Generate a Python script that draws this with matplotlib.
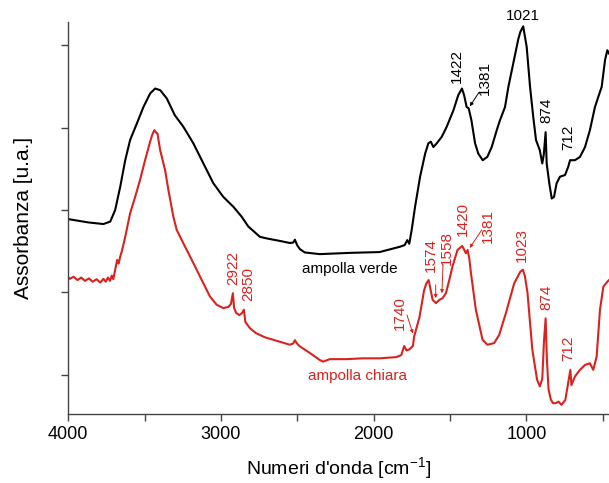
import matplotlib
matplotlib.use("Agg")
import matplotlib.pyplot as plt

plt.rcParams['font.family'] = ['Liberation Sans', 'DejaVu Sans']

# FTIR spectrum, "ampolla verde" (green ampoule)
verde_wn = [4000, 3870, 3770, 3725, 3693, 3660, 3627, 3595, 3551, 3508, 3464, 3431,
            3398, 3355, 3302, 3246, 3181, 3115, 3050, 2985, 2919, 2865, 2821, 2745,
            2699, 2614, 2549, 2527, 2516, 2500, 2483, 2451, 2353, 2157, 1961, 1827,
            1797, 1780, 1767, 1751, 1729, 1696, 1663, 1642, 1626, 1609, 1587, 1554,
            1522, 1478, 1446, 1422, 1408, 1391, 1378, 1360, 1336, 1315, 1286, 1256,
            1227, 1194, 1173, 1140, 1118, 1086, 1053, 1040, 1021, 998, 976, 955,
            937, 912, 896, 886, 874, 867, 850, 834, 819, 802, 780, 747, 726, 714,
            682, 649, 616, 584, 551, 529, 507, 485, 470, 459]
verde_abs = [0.578, 0.570, 0.566, 0.572, 0.600, 0.656, 0.721, 0.770, 0.810, 0.850, 0.883, 0.895,
             0.891, 0.871, 0.830, 0.802, 0.762, 0.713, 0.665, 0.632, 0.608, 0.584, 0.560, 0.535,
             0.531, 0.525, 0.520, 0.521, 0.528, 0.514, 0.505, 0.497, 0.493, 0.496, 0.498, 0.511,
             0.515, 0.527, 0.518, 0.552, 0.608, 0.681, 0.737, 0.762, 0.766, 0.753, 0.762, 0.778,
             0.802, 0.842, 0.879, 0.895, 0.879, 0.850, 0.847, 0.818, 0.762, 0.737, 0.721, 0.729,
             0.753, 0.794, 0.818, 0.850, 0.899, 0.956, 1.015, 1.032, 1.046, 0.996, 0.899, 0.826,
             0.770, 0.745, 0.713, 0.735, 0.789, 0.713, 0.665, 0.628, 0.632, 0.665, 0.681, 0.685, 0.705, 0.721,
             0.721, 0.729, 0.753, 0.794, 0.850, 0.875, 0.899, 0.964, 0.988, 0.980]

# FTIR spectrum, "ampolla chiara" (light ampoule)
chiara_wn = [4000, 3990, 3965, 3940, 3915, 3890, 3865, 3840, 3815, 3790, 3770, 3755,
             3740, 3727, 3715, 3705, 3693, 3680, 3670, 3660, 3649, 3627, 3595, 3562,
             3530, 3497, 3464, 3448, 3436, 3425, 3416, 3398, 3366, 3344, 3312, 3290,
             3246, 3202, 3159, 3115, 3072, 3028, 2985, 2950, 2935, 2922, 2914, 2900,
             2880, 2862, 2850, 2840, 2810, 2770, 2712, 2658, 2593, 2549, 2527, 2516,
             2500, 2483, 2418, 2353, 2331, 2287, 2178, 2070, 1961, 1851, 1819, 1800,
             1785, 1765, 1743, 1735, 1700, 1670, 1655, 1640, 1614, 1592, 1570, 1549,
             1527, 1505, 1484, 1451, 1420, 1396, 1385, 1374, 1363, 1331, 1287, 1255,
             1211, 1178, 1134, 1080, 1040, 1023, 1010, 993, 961, 930, 912, 896,
             885, 874, 866, 855, 840, 825, 808, 790, 770, 745, 712, 705, 682,
             649, 616, 584, 562, 540, 518, 496, 470, 459]
chiara_abs = [0.437, 0.433, 0.438, 0.430, 0.436, 0.428, 0.434, 0.426, 0.432, 0.424, 0.433, 0.426,
              0.436, 0.428, 0.441, 0.432, 0.455, 0.479, 0.470, 0.487, 0.500, 0.535, 0.592, 0.632,
              0.673, 0.721, 0.766, 0.785, 0.794, 0.788, 0.786, 0.745, 0.697, 0.648, 0.584, 0.552,
              0.519, 0.487, 0.455, 0.422, 0.390, 0.370, 0.362, 0.365, 0.372, 0.398, 0.362, 0.350,
              0.345, 0.350, 0.358, 0.328, 0.313, 0.301, 0.291, 0.285, 0.278, 0.273, 0.276, 0.284,
              0.275, 0.269, 0.253, 0.236, 0.232, 0.238, 0.238, 0.240, 0.240, 0.243, 0.248, 0.270,
              0.259, 0.262, 0.270, 0.293, 0.340, 0.405, 0.422, 0.430, 0.382, 0.374, 0.382, 0.386,
              0.398, 0.430, 0.463, 0.503, 0.513, 0.495, 0.503, 0.483, 0.447, 0.358, 0.285, 0.273,
              0.277, 0.297, 0.350, 0.422, 0.450, 0.455, 0.440, 0.400, 0.261, 0.188, 0.172, 0.190,
              0.280, 0.337, 0.240, 0.165, 0.140, 0.131, 0.131, 0.135, 0.127, 0.139, 0.212, 0.175, 0.196,
              0.212, 0.224, 0.228, 0.212, 0.244, 0.358, 0.414, 0.426, 0.430]

# Peak labels: (text, x, y, arrow tail, arrow head)
verde_labels = [("1422", 1455, 0.949, None, None),
                ("1381", 1271, 0.920, (1310, 0.886), (1370, 0.852)),
                ("874", 872, 0.842, None, None),
                ("712", 728, 0.777, None, None)]
chiara_labels = [("2922", 2921, 0.459, None, None),
                 ("2850", 2823, 0.421, None, None),
                 ("1740", 1828, 0.350, (1782, 0.345), (1743, 0.300)),
                 ("1574", 1625, 0.491, (1594, 0.418), (1594, 0.386)),
                 ("1558", 1520, 0.508, (1546, 0.467), (1553, 0.398)),
                 ("1420", 1416, 0.578, None, None),
                 ("1381", 1253, 0.561, (1292, 0.552), (1371, 0.508)),
                 ("1023", 1029, 0.515, None, None),
                 ("874", 872, 0.389, None, None),
                 ("712", 728, 0.265, None, None)]

RED = '#d8231f'

fig = plt.figure(figsize=(6.09, 4.83), dpi=100)
ax = fig.add_axes([0.1121, 0.143, 0.8879, 0.811])

ax.plot(verde_wn, verde_abs, color='black', lw=1.5)
ax.plot(chiara_wn, chiara_abs, color=RED, lw=1.5)

ax.set_xlim(4000, 459)
ax.set_ylim(0.105, 1.056)

ax.set_xticks([4000, 3000, 2000, 1000])
ax.set_xticks([3500, 2500, 1500, 500], minor=True)
ax.set_yticks([0.2, 0.4, 0.6, 0.8, 1.0])
ax.set_yticklabels([])
ax.tick_params(axis='both', which='both', direction='out', length=5, width=1,
               color='#444444', labelsize=13)
ax.spines['top'].set_visible(False)
ax.spines['right'].set_visible(False)
for s in ('left', 'bottom'):
    ax.spines[s].set_linewidth(1.0)
    ax.spines[s].set_color('#444444')

ax.set_xlabel("Numeri d'onda [cm$^{\\mathregular{-1}}$]", fontsize=14, labelpad=9)
ax.set_ylabel("Assorbanza [u.a.]", fontsize=15, labelpad=17)

ax.text(1021, 1.054, "1021", ha='center', va='bottom', fontsize=11, clip_on=False)


def put_labels(items, color):
    for txt, x, y, tail, head in items:
        ax.text(x, y, txt, rotation=90, ha='center', va='center', fontsize=11,
                color=color, clip_on=False)
        if tail is not None:
            ax.annotate("", xy=head, xytext=tail,
                        arrowprops=dict(arrowstyle='-|>', color=color, lw=0.7,
                                        mutation_scale=5, shrinkA=0, shrinkB=0))


put_labels(verde_labels, 'black')
put_labels(chiara_labels, RED)

ax.text(2155, 0.457, "ampolla verde", ha='center', va='center', fontsize=11, color='black')
ax.text(2103, 0.198, "ampolla chiara", ha='center', va='center', fontsize=11, color=RED)

fig.savefig("out.png", dpi=100)
